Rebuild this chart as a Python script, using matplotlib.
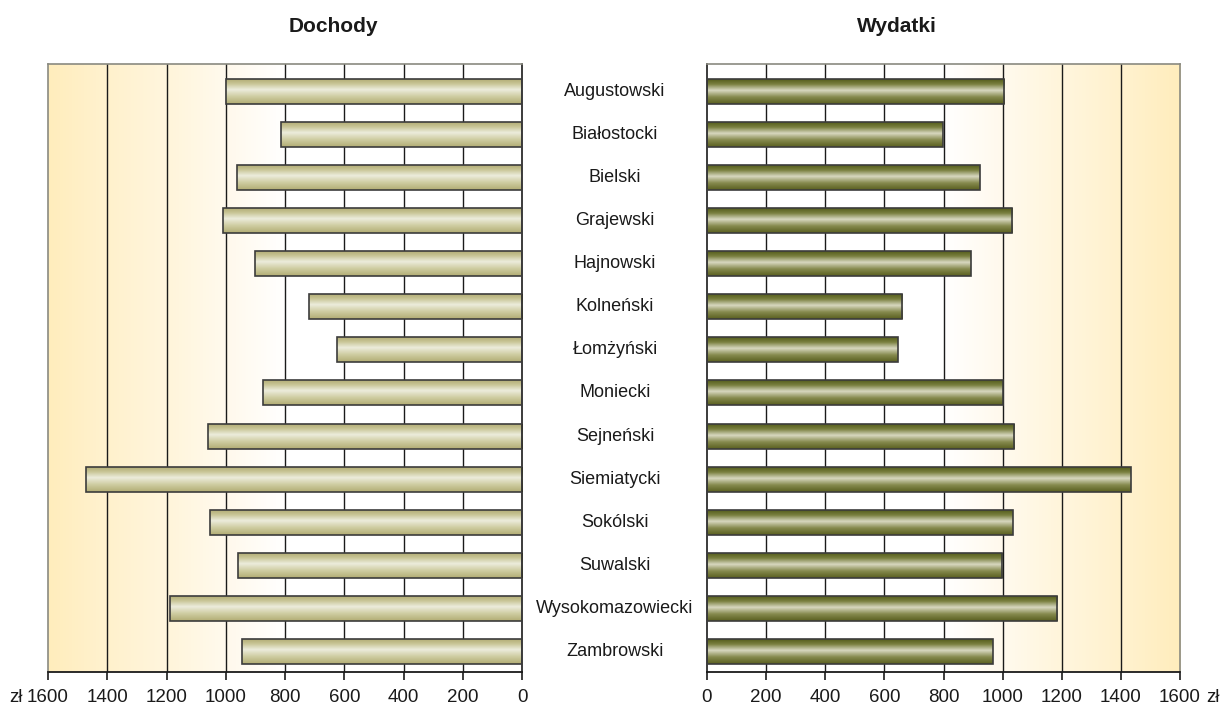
import numpy as np
import matplotlib
matplotlib.use("Agg")
import matplotlib.pyplot as plt
from matplotlib import transforms
from matplotlib.colors import LinearSegmentedColormap, to_rgb

plt.rcParams["font.family"] = ["Liberation Sans", "DejaVu Sans"]

categories = ["Augustowski", "Białostocki", "Bielski", "Grajewski", "Hajnowski",
              "Kolneński", "Łomżyński", "Moniecki", "Sejneński", "Siemiatycki",
              "Sokólski", "Suwalski", "Wysokomazowiecki", "Zambrowski"]
dochody = [999, 813, 962, 1009, 901, 719, 624, 874, 1060, 1472, 1053, 959, 1188, 945]
wydatki = [1005, 798, 923, 1032, 893, 660, 646, 1001, 1039, 1434, 1035, 998, 1184, 967]
ticks = [0, 200, 400, 600, 800, 1000, 1200, 1400, 1600]

fig = plt.figure(figsize=(12.21, 7.05), dpi=100)
axL = fig.add_axes([48/1221, 1-672/705, 474/1221, (672-64)/705])
axR = fig.add_axes([707/1221, 1-672/705, 473/1221, (672-64)/705])

n = len(categories)
ylim = (n - 1 + 0.48, -0.64)
bh = 0.58

bands = [(800, 1000, "#FFFFFF", "#FFF9EC"),
         (1000, 1200, "#FFFAEE", "#FFF5DA"),
         (1200, 1400, "#FFF6DE", "#FFF1CC"),
         (1400, 1600, "#FFF2D0", "#FFEDBC")]

cmapL = LinearSegmentedColormap.from_list("l", [(0, "#B3AE76"), (0.18, "#C8C596"), (0.42, "#ECECDC"),
                                                 (0.7, "#CFCDA2"), (1, "#B2AD74")])
cmapR = LinearSegmentedColormap.from_list("r", [(0, "#555D1C"), (0.2, "#7A8040"), (0.45, "#D8D8C0"),
                                                 (0.72, "#868A4E"), (1, "#5A6020")])

grad_v = np.linspace(0, 1, 64).reshape(-1, 1)

for ax, vals, cmap in [(axL, dochody, cmapL), (axR, wydatki, cmapR)]:
    ax.set_xlim(0, 1600)
    ax.set_ylim(*ylim)
    for x0, x1, c0, c1 in bands:
        a = np.array(to_rgb(c0)); b = np.array(to_rgb(c1))
        t = np.linspace(0, 1, 128).reshape(1, -1, 1)
        img = a + (b - a) * t
        ax.imshow(img, extent=[x0, x1, ylim[0], ylim[1]], aspect="auto", zorder=0,
                  interpolation="bilinear")
    for t in ticks[1:-1]:
        ax.axvline(t, color="#1A1A1A", lw=1.0, zorder=1)
    for i, v in enumerate(vals):
        ax.imshow(grad_v, cmap=cmap, extent=[0, v, i + bh/2, i - bh/2], aspect="auto",
                  zorder=2, interpolation="bilinear")
        ax.add_patch(plt.Rectangle((0, i - bh/2), v, bh, fill=False, ec="#3C3C3C", lw=1.2, zorder=3))
    ax.set_xlim(0, 1600)
    ax.set_ylim(*ylim)
    ax.set_yticks([])
    ax.set_xticks(ticks)
    ax.set_xticklabels([str(t) for t in ticks], fontsize=13.5, color="#1A1A1A")
    ax.tick_params(axis="x", direction="out", length=6, width=1.2, color="#1A1A1A", pad=6.5)
    for s in ["top", "left", "right"]:
        ax.spines[s].set_color("#8A8A80")
        ax.spines[s].set_linewidth(1.2)
    ax.spines["bottom"].set_color("#1A1A1A")
    ax.spines["bottom"].set_linewidth(1.3)

axL.invert_xaxis()
axL.spines["right"].set_color("#1A1A1A")
axR.spines["left"].set_color("#1A1A1A")

# category labels
tr = transforms.blended_transform_factory(fig.transFigure, axL.transData)
for i, c in enumerate(categories):
    fig.text(615/1221, i, c, transform=tr, ha="center", va="center", fontsize=13, color="#1A1A1A")

fig.text(333/1221, 1-27/705, "Dochody", ha="center", va="center", fontsize=15, fontweight="bold", color="#1A1A1A")
fig.text(897/1221, 1-27/705, "Wydatki", ha="center", va="center", fontsize=15, fontweight="bold", color="#1A1A1A")
fig.text(16/1221, 1-697/705, "zł", ha="center", va="center", fontsize=13.5, color="#1A1A1A")
fig.text(1213/1221, 1-697/705, "zł", ha="center", va="center", fontsize=13.5, color="#1A1A1A")

fig.savefig("out.png", dpi=100)
